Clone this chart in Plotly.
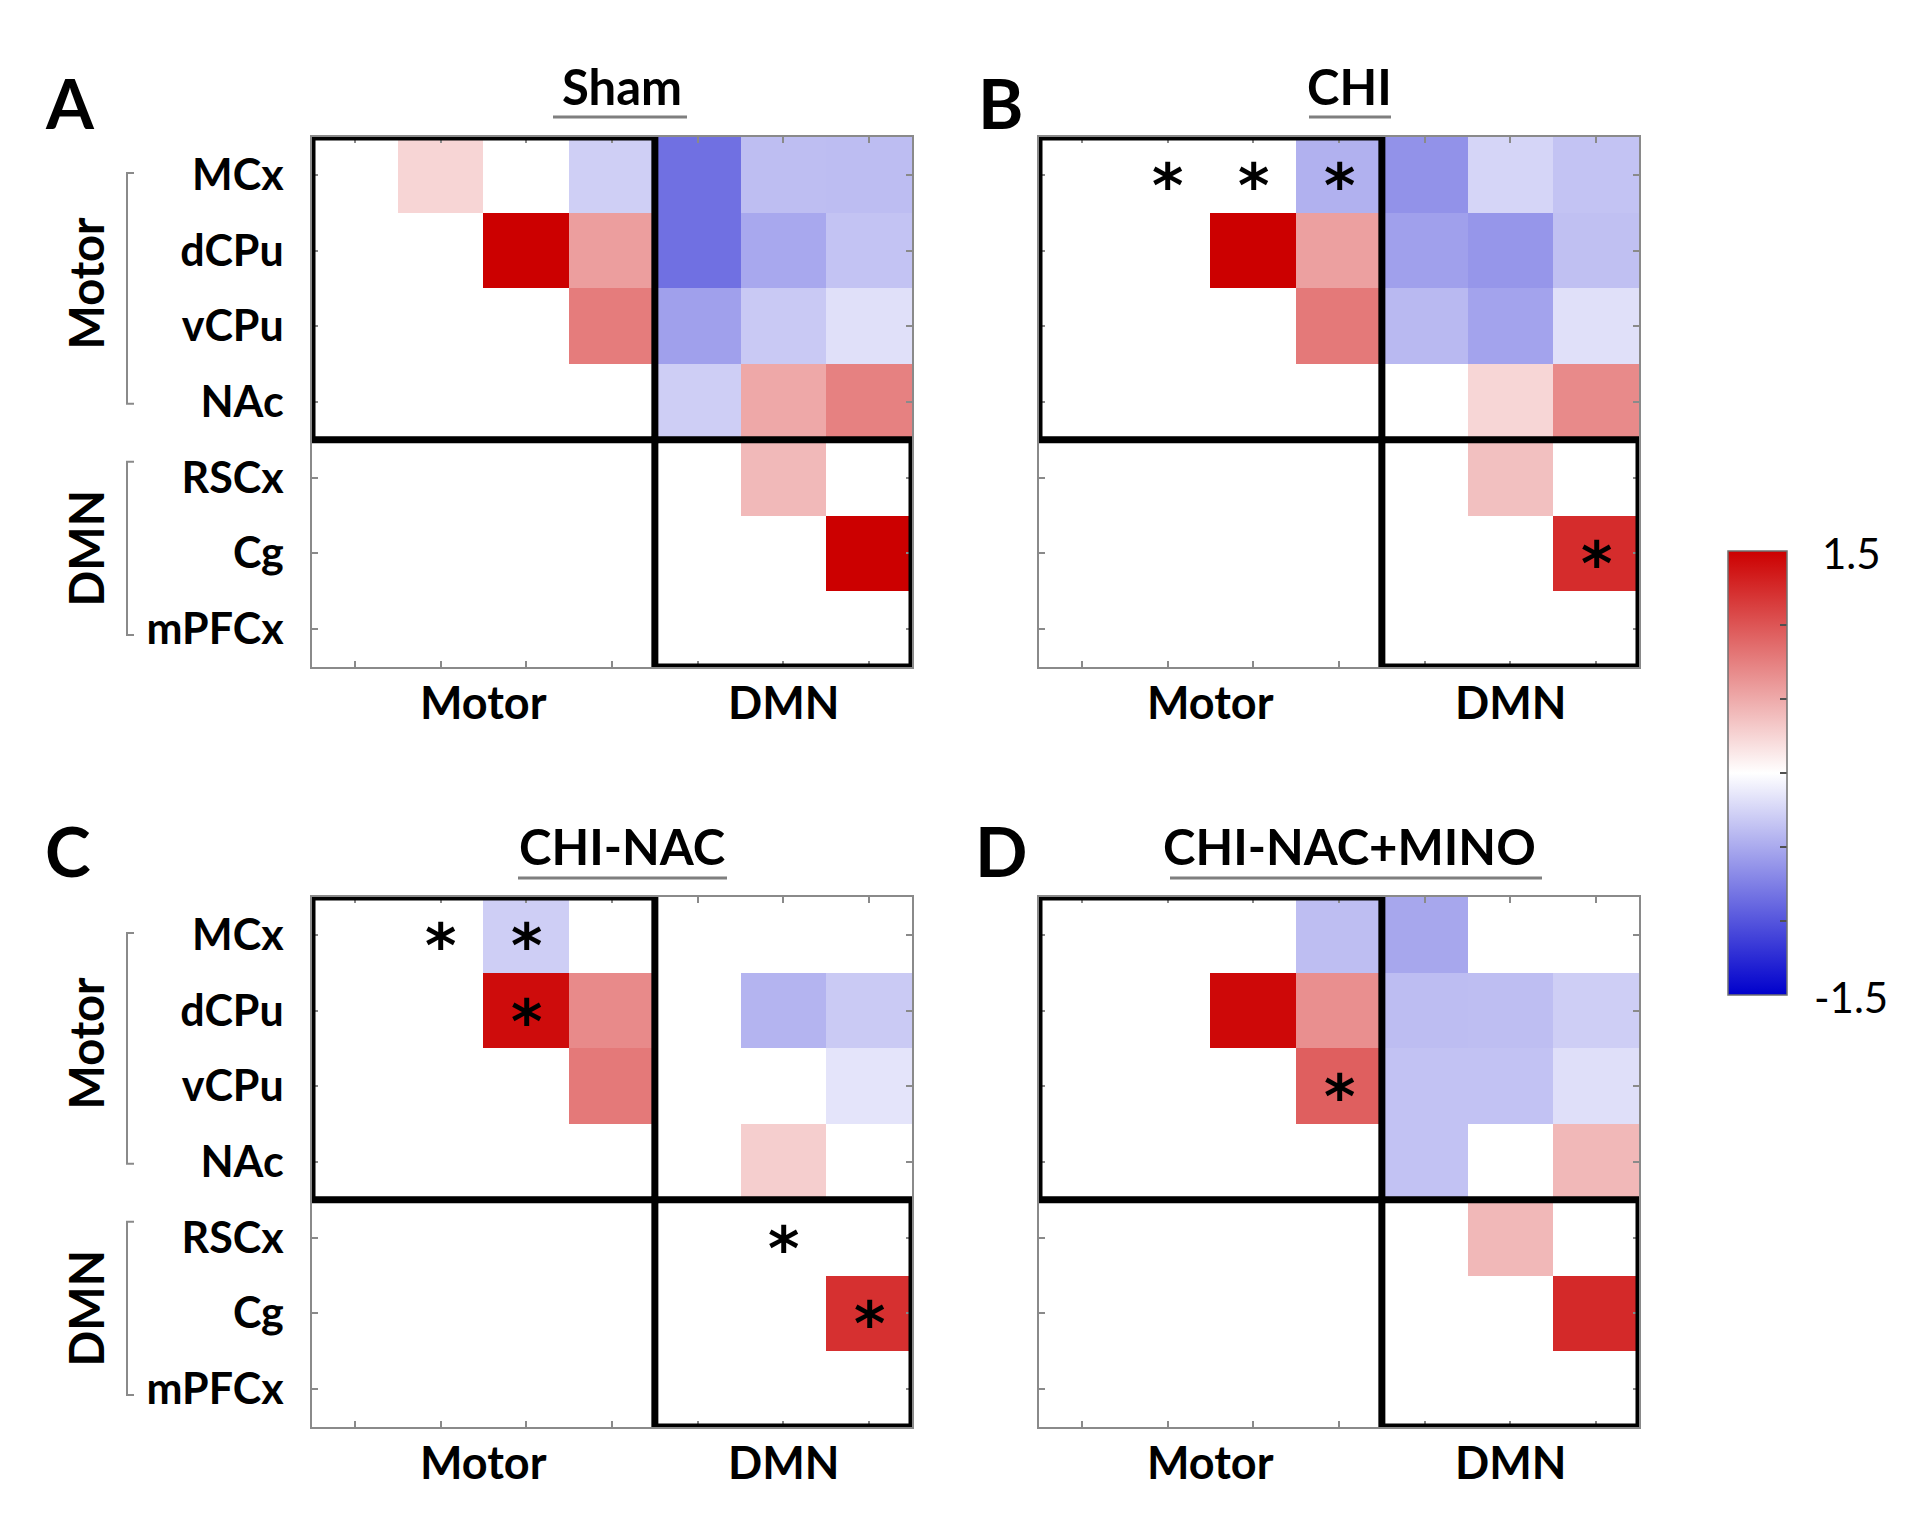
import plotly.graph_objects as go

W, H = 1932, 1526

# ---------------- data ----------------
regions = ['MCx', 'dCPu', 'vCPu', 'NAc', 'RSCx', 'Cg', 'mPFCx']
groups = ['Motor', 'DMN']
group_centers = [1.5, 5.0]
titles = ['Sham', 'CHI', 'CHI-NAC', 'CHI-NAC+MINO']
letters = ['A', 'B', 'C', 'D']
N = None

sham = [
    [N, 0.25, 0.00, -0.28, -0.84, -0.38, -0.39],
    [N, N, 1.50, 0.57, -0.84, -0.51, -0.35],
    [N, N, N, 0.77, -0.56, -0.32, -0.18],
    [N, N, N, N, -0.29, 0.51, 0.74],
    [N, N, N, N, N, 0.41, 0.00],
    [N, N, N, N, N, N, 1.50],
    [N, N, N, N, N, N, N],
]
chi = [
    [N, 0.00, 0.00, -0.46, -0.64, -0.25, -0.35],
    [N, N, 1.50, 0.56, -0.56, -0.62, -0.37],
    [N, N, N, 0.79, -0.41, -0.54, -0.18],
    [N, N, N, N, 0.00, 0.24, 0.69],
    [N, N, N, N, N, 0.37, 0.00],
    [N, N, N, N, N, N, 1.24],
    [N, N, N, N, N, N, N],
]
chi_nac = [
    [N, 0.00, -0.29, 0.00, 0.00, 0.00, 0.00],
    [N, N, 1.43, 0.69, 0.00, -0.44, -0.31],
    [N, N, N, 0.79, 0.00, 0.00, -0.16],
    [N, N, N, N, 0.00, 0.29, 0.00],
    [N, N, N, N, N, 0.00, 0.00],
    [N, N, N, N, N, N, 1.22],
    [N, N, N, N, N, N, N],
]
chi_nac_mino = [
    [N, 0.00, 0.00, -0.38, -0.52, 0.00, 0.00],
    [N, N, 1.45, 0.66, -0.39, -0.38, -0.29],
    [N, N, N, 0.94, -0.36, -0.36, -0.19],
    [N, N, N, N, -0.36, 0.00, 0.42],
    [N, N, N, N, N, 0.42, 0.00],
    [N, N, N, N, N, N, 1.26],
    [N, N, N, N, N, N, N],
]
matrices = [sham, chi, chi_nac, chi_nac_mino]

# significance markers (row, col)
stars_sham = []
stars_chi = [(0, 1), (0, 2), (0, 3), (5, 6)]
stars_chi_nac = [(0, 1), (0, 2), (1, 2), (4, 5), (5, 6)]
stars_chi_nac_mino = [(2, 3)]
stars = [stars_sham, stars_chi, stars_chi_nac, stars_chi_nac_mino]

cbar_min, cbar_max = -1.5, 1.5
cbar_ticks = [-1.5, -1.0, -0.5, 0.0, 0.5, 1.0, 1.5]
cbar_labels = ['-1.5', '', '', '', '', '', '1.5']

# ---------------- layout helpers ----------------
FONT = 'Lato'
STAR_FONT = 'DejaVu Sans'
AXC = '#8a8a8a'
panels = [(312, 137, 912, 667), (1039, 137, 1639, 667),
          (312, 897, 912, 1427), (1039, 897, 1639, 1427)]
with_labels = [True, False, True, False]
letter_pos = [(70, 102), (1001, 102), (68, 850), (1001, 850)]


def px(x):
    return x / W


def py(y):
    return 1 - y / H


fig = go.Figure()
annotations = []
shapes = []
layout_axes = {}

for i, z in enumerate(matrices):
    k = '' if i == 0 else str(i + 1)
    L, T, R, B = panels[i]
    fig.add_trace(go.Heatmap(
        z=z, x=list(range(len(regions))), y=list(range(len(regions))),
        coloraxis='coloraxis', xaxis='x' + k, yaxis='y' + k,
        hoverinfo='skip'))
    common = dict(showline=True, linecolor=AXC, linewidth=1.5, mirror='ticks',
                  ticks='inside', ticklen=6, tickwidth=1.5, tickcolor=AXC,
                  showgrid=False, zeroline=False, fixedrange=True)
    layout_axes['xaxis' + k] = dict(
        domain=[px(L), px(R)], range=[-0.5, len(regions) - 0.5],
        tickvals=list(range(len(regions))), showticklabels=False,
        anchor='y' + k, **common)
    yax = dict(domain=[py(B), py(T)], range=[len(regions) - 0.5, -0.5],
               tickvals=list(range(len(regions))), anchor='x' + k, **common)
    if with_labels[i]:
        yax.update(ticktext=regions, showticklabels=True,
                   tickfont=dict(family=FONT, size=43, color='black', weight='bold'),
                   ticklabelstandoff=18)
    else:
        yax.update(showticklabels=False)
    layout_axes['yaxis' + k] = yax

    xr, yr = 'x' + k, 'y' + k
    # network blocks
    shapes.append(dict(type='rect', xref=xr, yref=yr, x0=-0.5, x1=3.5, y0=-0.5, y1=3.5,
                       line=dict(color='black', width=7), layer='above'))
    shapes.append(dict(type='rect', xref=xr, yref=yr, x0=3.5, x1=6.5, y0=3.5, y1=6.5,
                       line=dict(color='black', width=7), layer='above'))

    # x group labels
    for g, c in zip(groups, group_centers):
        annotations.append(dict(text=g, x=c, xref=xr, y=py(B + 35), yref='paper',
                                showarrow=False, xanchor='center', yanchor='middle',
                                font=dict(family=FONT, size=45, color='black', weight='bold')))
    # stars
    for (r, c) in stars[i]:
        annotations.append(dict(text='*', x=c, xref=xr, y=r, yref=yr, showarrow=False,
                                xanchor='center', yanchor='middle', yshift=-11,
                                font=dict(family=STAR_FONT, size=60, color='black', weight='bold')))
    # title
    cx = (L + R) / 2 + 10
    annotations.append(dict(text=titles[i], x=px(cx), xref='paper', y=py(T - 51), yref='paper',
                            showarrow=False, xanchor='center', yanchor='middle',
                            font=dict(family=FONT, size=49, color='black', weight='bold')))
    # panel letter
    lx, ly = letter_pos[i]
    annotations.append(dict(text=letters[i], x=px(lx), xref='paper',
                            y=py(ly), yref='paper', showarrow=False,
                            xanchor='center', yanchor='middle',
                            font=dict(family=FONT, size=69, color='black', weight='bold')))
    # group labels on the y side with brackets
    if with_labels[i]:
        for g, (r0, r1, ins) in zip(groups, [(0, 3, 36), (4, 6, 22)]):
            rh = (B - T) / len(regions)
            ytop = T + r0 * rh + ins
            ybot = T + (r1 + 1) * rh - ins + (0 if r0 == 0 else -10)
            ymid = (T + r0 * rh + T + (r1 + 1) * rh) / 2 - 5
            annotations.append(dict(text=g, x=px(86), xref='paper', y=py(ymid), yref='paper',
                                    showarrow=False, xanchor='center', yanchor='middle',
                                    textangle=-90,
                                    font=dict(family=FONT, size=47, color='black', weight='bold')))
            shapes.append(dict(type='path', xref='paper', yref='paper',
                               path=f'M {px(134)},{py(ytop)} L {px(127)},{py(ytop)} '
                                    f'L {px(127)},{py(ybot)} L {px(134)},{py(ybot)}',
                               line=dict(color='#8a8a8a', width=2)))

# title underlines (widths follow the title text)
underlines = [(553, 687, 117), (1309, 1391, 117), (518, 727, 878), (1170, 1542, 878)]
for (x0, x1, yy) in underlines:
    shapes.append(dict(type='line', xref='paper', yref='paper', x0=px(x0), x1=px(x1),
                       y0=py(yy), y1=py(yy), line=dict(color='#7f7f7f', width=3)))

# colorbar
CB_L, CB_T, CB_R, CB_B = 1728, 551, 1787, 995
cb_mid = (CB_T + CB_B) / 2
for v in cbar_ticks[1:-1]:
    yv = cb_mid - v * (CB_B - CB_T) / (cbar_max - cbar_min)
    shapes.append(dict(type='line', xref='paper', yref='paper', x0=px(CB_L), x1=px(CB_L + 7),
                       y0=py(yv), y1=py(yv), line=dict(color='#505050', width=1.5)))
for v, t in zip(cbar_ticks, cbar_labels):
    if t:
        yv = cb_mid - v * (CB_B - CB_T) / (cbar_max - cbar_min)
        annotations.append(dict(text=t, x=px(CB_R + 64), xref='paper', y=py(yv + 2), yref='paper',
                                showarrow=False, xanchor='center', yanchor='middle',
                                font=dict(family=FONT, size=42, color='black')))

fig.update_layout(
    width=W, height=H, margin=dict(l=0, r=0, t=0, b=0),
    paper_bgcolor='white', plot_bgcolor='white', showlegend=False,
    coloraxis=dict(
        colorscale=[[0, 'rgb(0,0,204)'], [0.5, 'rgb(255,255,255)'], [1, 'rgb(204,0,0)']],
        cmin=cbar_min, cmax=cbar_max,
        colorbar=dict(x=px(CB_L), xanchor='left', xpad=0, y=py(cb_mid), yanchor='middle', ypad=0,
                      len=CB_B - CB_T, lenmode='pixels', thickness=CB_R - CB_L,
                      thicknessmode='pixels', outlinewidth=1.5, outlinecolor='#707070',
                      ticks='inside', ticklen=7, tickwidth=1.5, tickcolor='#505050',
                      tickvals=cbar_ticks, showticklabels=False)),
    annotations=annotations, shapes=shapes, **layout_axes)

fig.write_html("out.html", config={'displayModeBar': False},
               post_script="document.body.style.margin='0';document.body.style.overflow='hidden';")
